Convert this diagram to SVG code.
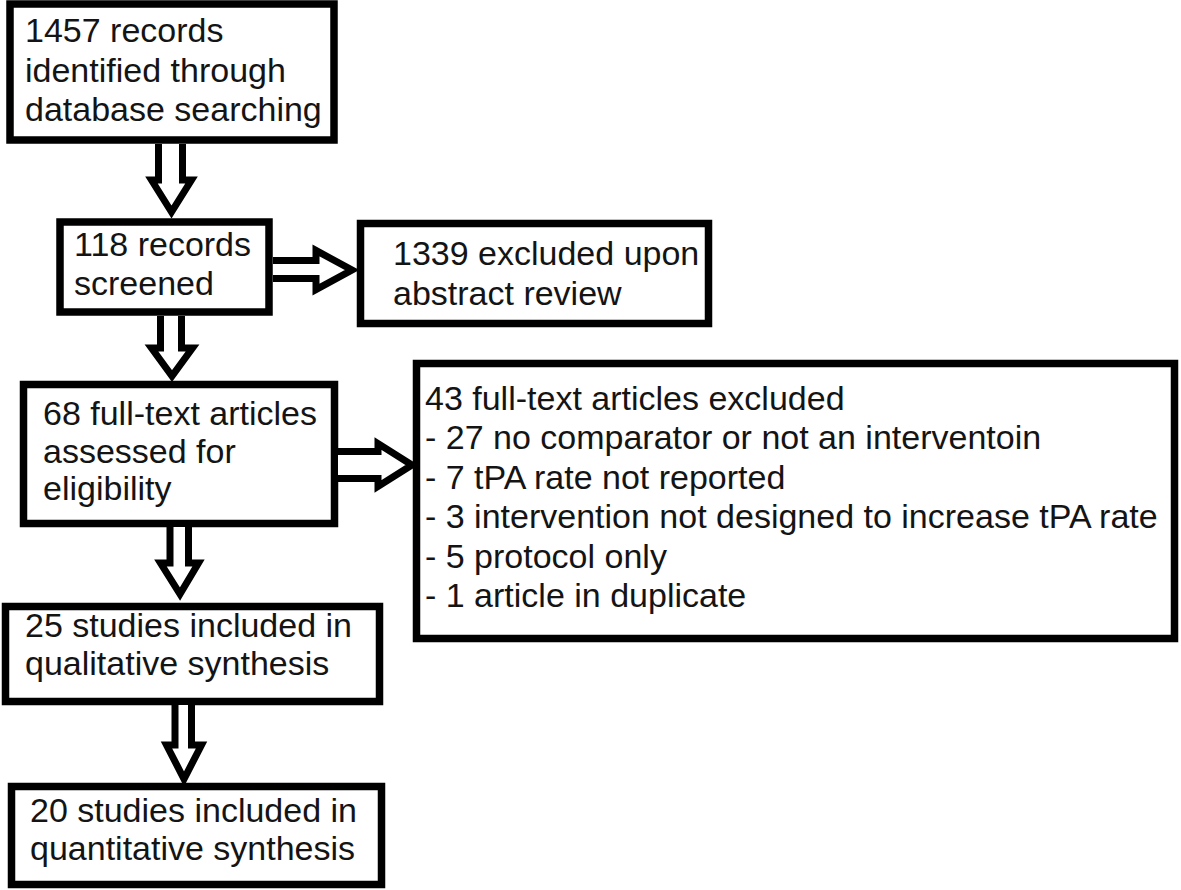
<svg xmlns="http://www.w3.org/2000/svg" width="1181" height="890" viewBox="0 0 1181 890">
<style>
.box{fill:#fff;stroke:#000;stroke-width:7.5}
.t{font-family:"Liberation Sans",Arial,sans-serif;font-size:34px;fill:#141414}
.arr{fill:#fff;stroke:#000;stroke-width:7;stroke-linejoin:miter;stroke-miterlimit:10}
</style>
<rect width="1181" height="890" fill="#fff"/>
<g id="n1">
<rect class="box" x="10" y="4" width="324" height="136"/>
<text class="t" x="25" y="42">1457 records</text>
<text class="t" x="25" y="82">identified through</text>
<text class="t" x="25" y="121">database searching</text>
</g>
<g id="n2">
<rect class="box" x="60" y="222" width="209" height="90"/>
<text class="t" x="74" y="256">118 records</text>
<text class="t" x="74" y="295">screened</text>
</g>
<g id="n3">
<rect class="box" x="360.5" y="223.5" width="348" height="100"/>
<text class="t" x="393" y="265">1339 excluded upon</text>
<text class="t" x="393" y="305">abstract review</text>
</g>
<g id="n4">
<rect class="box" x="23.5" y="384.5" width="311" height="139"/>
<text class="t" x="43" y="425">68 full-text articles</text>
<text class="t" x="43" y="463">assessed for</text>
<text class="t" x="43" y="500">eligibility</text>
</g>
<g id="n5">
<rect class="box" x="416.5" y="363.5" width="758" height="275"/>
<text class="t" x="425" y="410">43 full-text articles excluded</text>
<text class="t" x="425" y="449">- 27 no comparator or not an interventoin</text>
<text class="t" x="425" y="489">- 7 tPA rate not reported</text>
<text class="t" x="425" y="528">- 3 intervention not designed to increase tPA rate</text>
<text class="t" x="425" y="568">- 5 protocol only</text>
<text class="t" x="425" y="607">- 1 article in duplicate</text>
</g>
<g id="n6">
<rect class="box" x="5.5" y="606.5" width="374" height="95"/>
<text class="t" x="25" y="637">25 studies included in</text>
<text class="t" x="25" y="675">qualitative synthesis</text>
</g>
<g id="n7">
<rect class="box" x="11.5" y="786.5" width="370" height="98"/>
<text class="t" x="30" y="822">20 studies included in</text>
<text class="t" x="30" y="860">quantitative synthesis</text>
</g>
<g id="connectors">
<path class="arr" d="M158.5,144 L158.5,180 L151.5,180 L171.5,212 L191.5,180 L182.5,180 L182.5,144"/>
<path class="arr" d="M273,260.5 L316,260.5 L316,250.5 L352,270 L316,289.5 L316,278.5 L273,278.5"/>
<path class="arr" d="M160.5,316 L160.5,348 L151.5,348 L172,376 L192.5,348 L181.5,348 L181.5,316"/>
<path class="arr" d="M338,451.5 L378,451.5 L378,443.5 L412,465 L378,486.5 L378,478.5 L338,478.5"/>
<path class="arr" d="M170,527 L170,563 L160.5,563 L180,594 L198.5,563 L188.5,563 L188.5,527"/>
<path class="arr" d="M175,705 L175,745 L166.5,745 L184,779 L201.5,745 L191.5,745 L191.5,705"/>
</g>
</svg>
